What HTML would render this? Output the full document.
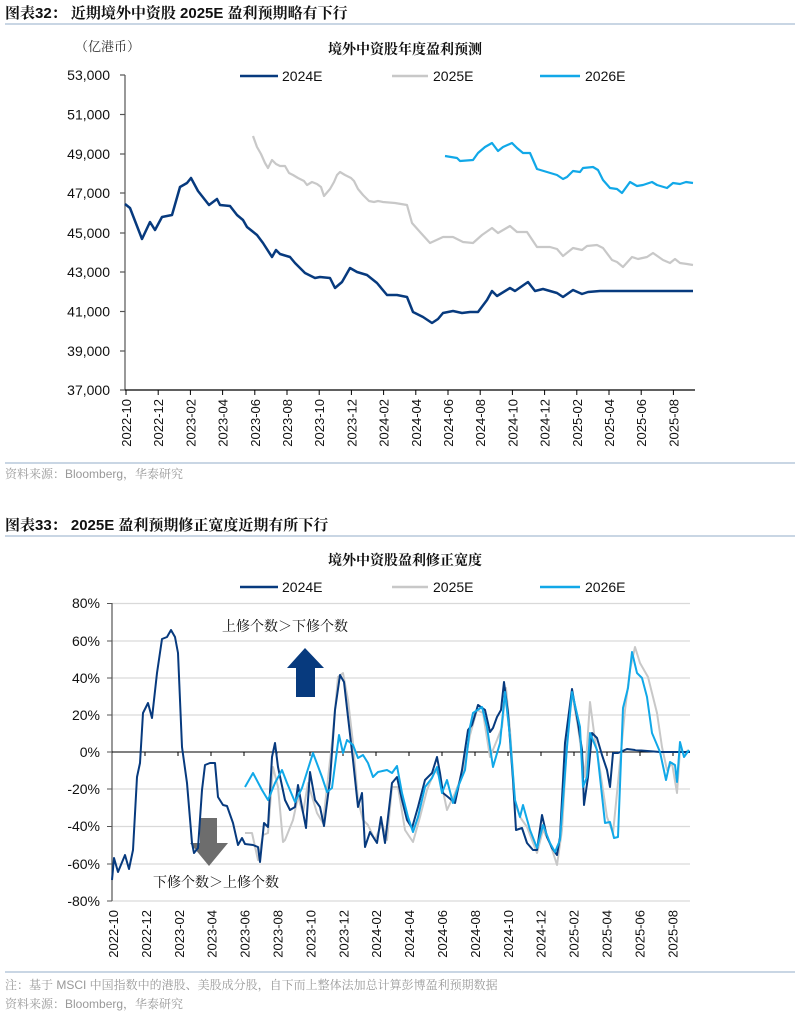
<!DOCTYPE html>
<html><head><meta charset="utf-8"><style>
body{margin:0;background:#fff;}
svg text{font-family:"Liberation Sans","Noto Serif CJK SC",serif;}
</style></head><body>
<svg width="800" height="1018" xmlns="http://www.w3.org/2000/svg">
<!-- header 1 -->
<text x="5" y="18" font-size="15" font-weight="bold" fill="#111">图表32：  近期境外中资股 2025E 盈利预期略有下行</text>
<line x1="5" y1="24" x2="795" y2="24" stroke="#a9bdd3" stroke-width="1.2"/>
<text x="75" y="51" font-size="13" fill="#333">（亿港币）</text>
<text x="405" y="54" font-size="14" font-weight="bold" fill="#111" text-anchor="middle">境外中资股年度盈利预测</text>
<line x1="240" y1="76" x2="278" y2="76" stroke="#073a7e" stroke-width="2.5"/><text x="282" y="81" font-size="14" fill="#111">2024E</text>
<line x1="392" y1="76" x2="428" y2="76" stroke="#c8c8c8" stroke-width="2.5"/><text x="433" y="81" font-size="14" fill="#111">2025E</text>
<line x1="540" y1="76" x2="580" y2="76" stroke="#11a8e8" stroke-width="2.5"/><text x="585" y="81" font-size="14" fill="#111">2026E</text>
<!-- axes chart1 -->
<g stroke="#555" stroke-width="1.2">
<line x1="125" y1="75" x2="125" y2="390"/>
<line x1="125" y1="390" x2="695" y2="390" stroke="#000"/>
<line x1="120" y1="75" x2="125" y2="75"/><line x1="120" y1="114.5" x2="125" y2="114.5"/><line x1="120" y1="154" x2="125" y2="154"/><line x1="120" y1="193" x2="125" y2="193"/><line x1="120" y1="233" x2="125" y2="233"/><line x1="120" y1="272" x2="125" y2="272"/><line x1="120" y1="311.5" x2="125" y2="311.5"/><line x1="120" y1="351" x2="125" y2="351"/><line x1="120" y1="390" x2="125" y2="390"/>
</g>
<g font-size="14" fill="#111" text-anchor="end">
<text x="110" y="80">53,000</text><text x="110" y="119.5">51,000</text><text x="110" y="159">49,000</text><text x="110" y="198">47,000</text><text x="110" y="238">45,000</text><text x="110" y="277">43,000</text><text x="110" y="316.5">41,000</text><text x="110" y="356">39,000</text><text x="110" y="395">37,000</text>
</g>
<g stroke="#000" stroke-width="1">
<line x1="126" y1="390" x2="126" y2="395"/><line x1="158.2" y1="390" x2="158.2" y2="395"/><line x1="190.4" y1="390" x2="190.4" y2="395"/><line x1="222.6" y1="390" x2="222.6" y2="395"/><line x1="254.8" y1="390" x2="254.8" y2="395"/><line x1="287" y1="390" x2="287" y2="395"/><line x1="319.2" y1="390" x2="319.2" y2="395"/><line x1="351.4" y1="390" x2="351.4" y2="395"/><line x1="383.6" y1="390" x2="383.6" y2="395"/><line x1="415.8" y1="390" x2="415.8" y2="395"/><line x1="448" y1="390" x2="448" y2="395"/><line x1="480.2" y1="390" x2="480.2" y2="395"/><line x1="512.4" y1="390" x2="512.4" y2="395"/><line x1="544.6" y1="390" x2="544.6" y2="395"/><line x1="576.8" y1="390" x2="576.8" y2="395"/><line x1="609" y1="390" x2="609" y2="395"/><line x1="641.2" y1="390" x2="641.2" y2="395"/><line x1="673.4" y1="390" x2="673.4" y2="395"/>
</g>
<g font-size="13" fill="#111" text-anchor="end">
<text transform="translate(131,399) rotate(-90)">2022-10</text><text transform="translate(163.2,399) rotate(-90)">2022-12</text><text transform="translate(195.4,399) rotate(-90)">2023-02</text><text transform="translate(227.6,399) rotate(-90)">2023-04</text><text transform="translate(259.8,399) rotate(-90)">2023-06</text><text transform="translate(292,399) rotate(-90)">2023-08</text><text transform="translate(324.2,399) rotate(-90)">2023-10</text><text transform="translate(356.4,399) rotate(-90)">2023-12</text><text transform="translate(388.6,399) rotate(-90)">2024-02</text><text transform="translate(420.8,399) rotate(-90)">2024-04</text><text transform="translate(453,399) rotate(-90)">2024-06</text><text transform="translate(485.2,399) rotate(-90)">2024-08</text><text transform="translate(517.4,399) rotate(-90)">2024-10</text><text transform="translate(549.6,399) rotate(-90)">2024-12</text><text transform="translate(581.8,399) rotate(-90)">2025-02</text><text transform="translate(614,399) rotate(-90)">2025-04</text><text transform="translate(646.2,399) rotate(-90)">2025-06</text><text transform="translate(678.4,399) rotate(-90)">2025-08</text>
</g>
<g fill="none" stroke-width="2.2" stroke-linejoin="round">
<polyline stroke="#c8c8c8" points="253,136 257,147 261,154 265,163 268,168 272,160 276,164 280,166 285,166 289,173 293,175 298,178 304,181 307,185 312,182 317,184 321,187 324,196 330,189 334,182 337,175 340,172 345,175 351,178 354,181 358,189 363,195 369,201 374,202 378,201 383,202 395,203 407,205 412,223 420,232 430,243 443,237 453,237 463,242 473,243 482,235 492,228 498,233 510,226 517,232 527,232 537,247 550,247 557,249 563,256 573,248 582,250 587,246 597,245 603,248 612,260 617,262 623,267 632,257 638,259 647,257 653,253 663,260 670,263 675,259 680,263 687,264 693,265"/>
<polyline stroke="#11a8e8" points="445,156 457,158 460,161 473,160 478,153 485,147 492,143 498,151 503,147 512,143 517,148 523,153 530,153 537,169 557,175 563,179 567,177 573,171 580,172 583,168 593,167 598,170 603,180 610,188 617,189 622,193 630,182 637,186 643,185 652,182 657,185 667,188 673,183 680,184 686,182 693,183"/>
<polyline stroke="#073a7e" stroke-width="2.5" points="125,204 130,208 142,239 150,222 155,230 162,217 172,215 180,187 187,183 191,178 198,191 209,205 217,199 220,205 230,206 237,215 243,220 247,227 257,235 263,243 272,257 276,250 280,254 290,257 295,263 305,273 315,278 320,277 330,278 335,288 342,282 350,268 357,272 367,275 377,283 387,295 397,295 407,297 413,312 423,317 432,323 438,319 443,313 453,311 462,313 470,312 478,312 487,300 492,291 497,296 510,288 515,291 528,282 535,291 543,289 557,293 563,297 573,290 582,294 588,292 600,291 693,291"/>
</g>
<line x1="5" y1="463" x2="795" y2="463" stroke="#a9bdd3" stroke-width="1.2"/>
<text x="5" y="478" font-size="12" fill="#999">资料来源：Bloomberg，华泰研究</text>

<!-- header 2 -->
<text x="5" y="530" font-size="15" font-weight="bold" fill="#111">图表33：  2025E 盈利预期修正宽度近期有所下行</text>
<line x1="5" y1="536" x2="795" y2="536" stroke="#a9bdd3" stroke-width="1.2"/>
<text x="405" y="565" font-size="14" font-weight="bold" fill="#111" text-anchor="middle">境外中资股盈利修正宽度</text>
<line x1="240" y1="587" x2="278" y2="587" stroke="#073a7e" stroke-width="2.5"/><text x="282" y="592" font-size="14" fill="#111">2024E</text>
<line x1="392" y1="587" x2="428" y2="587" stroke="#c8c8c8" stroke-width="2.5"/><text x="433" y="592" font-size="14" fill="#111">2025E</text>
<line x1="540" y1="587" x2="580" y2="587" stroke="#11a8e8" stroke-width="2.5"/><text x="585" y="592" font-size="14" fill="#111">2026E</text>
<g stroke="#d9d9d9" stroke-width="1.2">
<line x1="112" y1="603.5" x2="690" y2="603.5"/><line x1="112" y1="641" x2="690" y2="641"/><line x1="112" y1="678" x2="690" y2="678"/><line x1="112" y1="715" x2="690" y2="715"/><line x1="112" y1="789" x2="690" y2="789"/><line x1="112" y1="826.5" x2="690" y2="826.5"/><line x1="112" y1="864" x2="690" y2="864"/><line x1="112" y1="901" x2="690" y2="901"/>
</g>
<line x1="112" y1="603" x2="112" y2="901" stroke="#555" stroke-width="1.2"/>
<line x1="112" y1="752" x2="690" y2="752" stroke="#000" stroke-width="1"/>
<g stroke="#555" stroke-width="1">
<line x1="107" y1="603.5" x2="112" y2="603.5"/><line x1="107" y1="641" x2="112" y2="641"/><line x1="107" y1="678" x2="112" y2="678"/><line x1="107" y1="715" x2="112" y2="715"/><line x1="107" y1="752" x2="112" y2="752"/><line x1="107" y1="789" x2="112" y2="789"/><line x1="107" y1="826.5" x2="112" y2="826.5"/><line x1="107" y1="864" x2="112" y2="864"/><line x1="107" y1="901" x2="112" y2="901"/>
</g>
<g font-size="14" fill="#111" text-anchor="end">
<text x="100" y="608">80%</text><text x="100" y="646">60%</text><text x="100" y="683">40%</text><text x="100" y="720">20%</text><text x="100" y="757">0%</text><text x="100" y="794">-20%</text><text x="100" y="831">-40%</text><text x="100" y="869">-60%</text><text x="100" y="906">-80%</text>
</g>
<g font-size="13" fill="#111" text-anchor="end">
<text transform="translate(118,910) rotate(-90)">2022-10</text><text transform="translate(150.9,910) rotate(-90)">2022-12</text><text transform="translate(183.8,910) rotate(-90)">2023-02</text><text transform="translate(216.7,910) rotate(-90)">2023-04</text><text transform="translate(249.6,910) rotate(-90)">2023-06</text><text transform="translate(282.5,910) rotate(-90)">2023-08</text><text transform="translate(315.4,910) rotate(-90)">2023-10</text><text transform="translate(348.3,910) rotate(-90)">2023-12</text><text transform="translate(381.2,910) rotate(-90)">2024-02</text><text transform="translate(414.1,910) rotate(-90)">2024-04</text><text transform="translate(447,910) rotate(-90)">2024-06</text><text transform="translate(479.9,910) rotate(-90)">2024-08</text><text transform="translate(512.8,910) rotate(-90)">2024-10</text><text transform="translate(545.7,910) rotate(-90)">2024-12</text><text transform="translate(578.6,910) rotate(-90)">2025-02</text><text transform="translate(611.5,910) rotate(-90)">2025-04</text><text transform="translate(644.4,910) rotate(-90)">2025-06</text><text transform="translate(677.3,910) rotate(-90)">2025-08</text>
</g>
<g stroke="#000" stroke-width="1">
<line x1="145" y1="752" x2="145" y2="756"/><line x1="178" y1="752" x2="178" y2="756"/><line x1="211" y1="752" x2="211" y2="756"/><line x1="244" y1="752" x2="244" y2="756"/><line x1="277" y1="752" x2="277" y2="756"/><line x1="310" y1="752" x2="310" y2="756"/><line x1="343" y1="752" x2="343" y2="756"/><line x1="376" y1="752" x2="376" y2="756"/><line x1="409" y1="752" x2="409" y2="756"/><line x1="442" y1="752" x2="442" y2="756"/><line x1="475" y1="752" x2="475" y2="756"/><line x1="508" y1="752" x2="508" y2="756"/><line x1="541" y1="752" x2="541" y2="756"/><line x1="574" y1="752" x2="574" y2="756"/><line x1="607" y1="752" x2="607" y2="756"/><line x1="640" y1="752" x2="640" y2="756"/><line x1="673" y1="752" x2="673" y2="756"/>
</g>
<!-- arrows -->
<polygon points="287,668 305,648 324,668 315,668 315,697 296,697 296,668" fill="#073a7e"/>
<polygon points="200,818 217,818 217,843 228,843 209,866 190,843 200,843" fill="#6d6d6d"/>
<text x="222" y="631" font-size="14" fill="#111">上修个数＞下修个数</text>
<text x="153" y="887" font-size="14" fill="#111">下修个数＞上修个数</text>
<g fill="none" stroke-width="2" stroke-linejoin="round">
<polyline stroke="#c8c8c8" points="245,833 252,833 258,860 263,835 268,833 273,767 278,787 283,842 285,840 293,820 298,797 303,813 308,783 317,813 323,823 332,743 338,677 343,673 348,700 353,743 358,800 363,820 368,825 375,840 382,823 387,840 392,787 398,787 405,830 413,842 420,817 427,790 435,770 440,777 447,810 455,793 463,773 470,735 477,710 483,713 490,757 497,740 502,727 506,688 510,730 515,803 520,817 527,827 537,853 543,830 550,843 557,865 562,830 567,743 572,693 578,727 585,777 590,702 595,740 600,770 607,817 613,833 618,783 625,710 630,670 635,647 640,663 648,677 657,713 662,747 667,770 672,763 677,793 680,750 685,753 688,750"/>
<polyline stroke="#073a7e" points="112,880 114,858 118,872 125,855 129,869 133,850 137,777 140,763 143,713 148,703 152,718 157,673 162,639 167,637 171,630 175,637 178,653 182,747 187,783 192,843 194,853 198,848 202,790 205,765 210,763 215,763 218,797 223,805 227,806 233,823 238,845 242,838 245,844 253,845 258,847 260,862 264,823 268,827 272,757 275,743 278,767 285,800 290,810 295,807 298,785 302,807 306,828 310,772 315,800 320,807 324,826 330,780 335,710 340,675 344,682 348,717 353,760 358,807 362,793 365,847 370,832 377,843 381,817 385,843 392,783 397,777 402,800 407,820 412,828 418,807 425,780 432,773 437,757 440,773 443,793 448,797 455,803 462,770 468,730 472,725 478,705 485,710 490,732 493,728 497,717 501,710 504,682 508,713 513,780 516,830 522,828 527,843 533,850 537,850 542,815 547,837 552,848 557,855 560,837 565,743 572,689 578,723 582,750 584,805 588,777 592,733 597,738 602,755 607,770 610,787 613,753 618,753 627,749 635,750 660,752 690,752"/>
<polyline stroke="#11a8e8" points="245,787 253,773 262,790 268,800 275,783 282,770 287,783 295,802 302,788 313,753 322,777 327,792 332,788 339,735 343,753 347,740 353,745 358,758 363,755 368,763 373,777 378,772 387,770 392,773 397,766 402,793 408,817 413,832 418,817 425,787 432,778 437,767 442,793 447,780 453,803 458,787 465,770 470,727 473,713 482,707 487,727 493,767 500,743 505,692 510,737 515,800 520,817 523,805 530,830 537,848 543,825 550,843 555,852 560,840 567,747 572,692 580,727 583,787 587,777 590,733 597,750 605,823 610,822 614,838 618,837 623,708 628,688 632,652 637,673 642,678 647,697 652,733 660,752 666,780 670,762 675,765 677,782 680,742 684,757 689,750"/>
</g>
<line x1="5" y1="972" x2="795" y2="972" stroke="#a9bdd3" stroke-width="1.2"/>
<text x="5" y="989" font-size="12" fill="#999">注：基于 MSCI 中国指数中的港股、美股成分股，自下而上整体法加总计算彭博盈利预期数据</text>
<text x="5" y="1008" font-size="12" fill="#999">资料来源：Bloomberg，华泰研究</text>
</svg>
</body></html>
